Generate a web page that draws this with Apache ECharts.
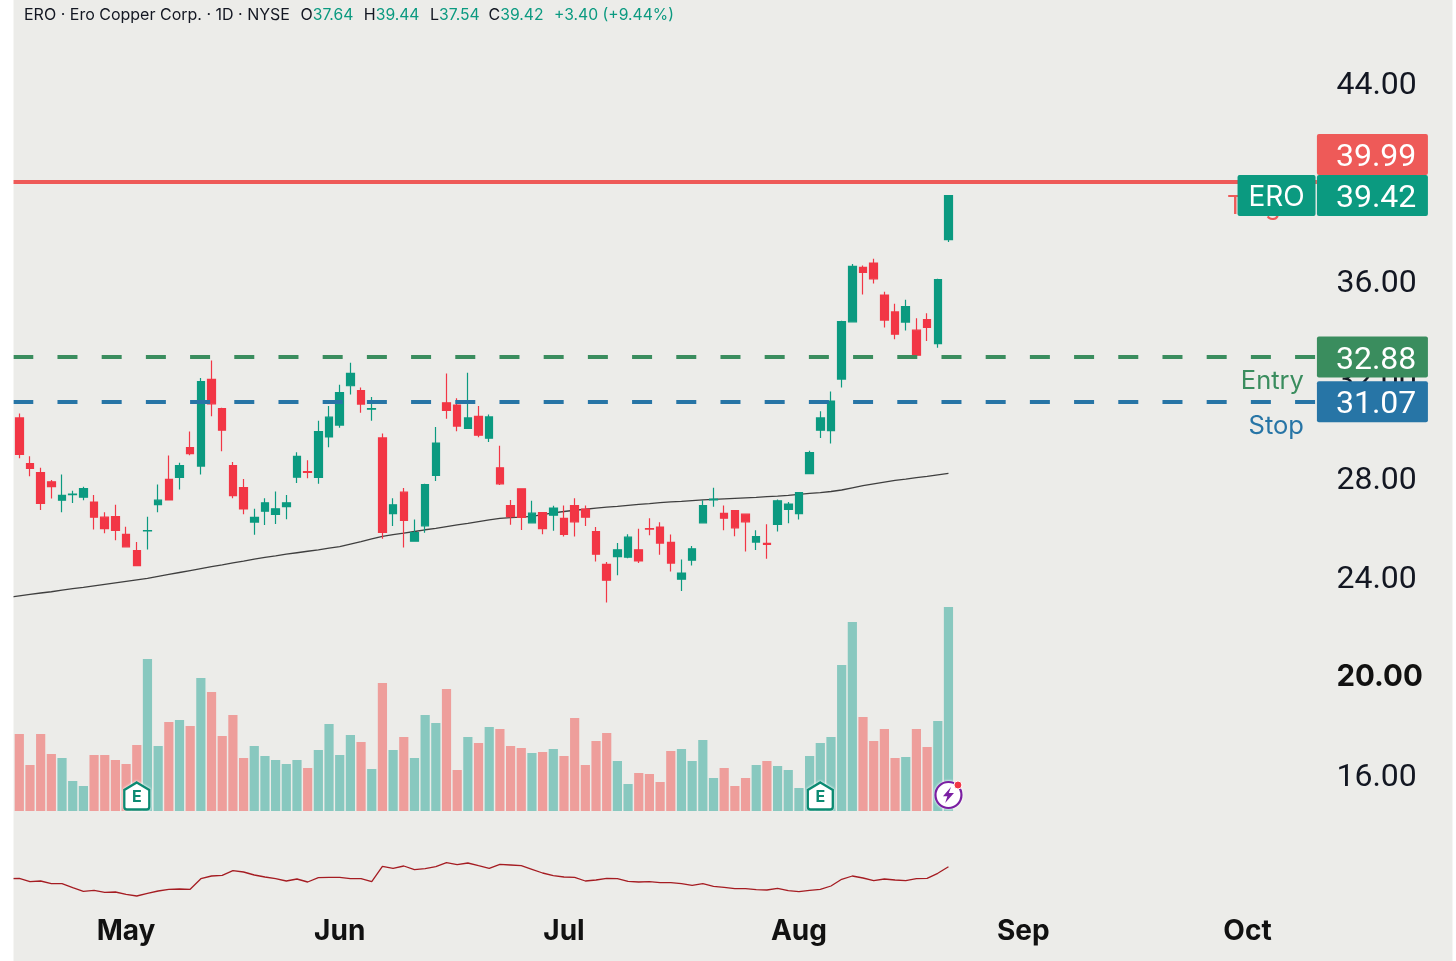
<!DOCTYPE html>
<html><head><meta charset="utf-8">
<style>html,body{margin:0;padding:0;background:#fff}#c{width:1456px;height:961px}</style>
<script src="https://cdn.jsdelivr.net/npm/echarts@6/dist/echarts.min.js"></script>
</head><body><div id="c"></div>
<script>
const opens=[30.42,28.57,28.20,27.83,27.09,27.31,27.21,27.01,26.40,26.42,25.70,25.05,25.84,26.91,27.93,28.01,29.22,28.47,31.98,30.80,28.49,27.60,26.20,26.64,26.51,26.83,28.02,28.24,28.01,29.65,30.13,31.72,31.52,30.77,29.61,26.54,27.41,25.43,26.05,28.09,31.03,30.94,29.99,30.48,29.60,28.40,26.87,27.55,26.17,26.59,26.48,26.35,26.87,26.73,25.82,24.49,24.80,24.78,25.08,25.94,26.00,25.38,23.89,24.66,26.17,27.10,26.55,26.67,26.52,25.39,25.34,26.11,26.71,26.54,28.16,29.92,29.90,31.99,34.31,36.51,36.69,35.39,34.71,34.30,33.97,34.40,33.43,37.64];
const closes=[28.94,28.37,26.96,27.64,27.28,27.33,27.56,26.40,25.94,25.86,25.20,24.44,25.86,27.09,27.10,28.49,28.97,31.89,30.99,29.92,27.27,26.73,26.39,26.98,26.74,26.98,28.86,28.21,29.86,30.45,31.44,32.22,30.98,30.80,25.78,26.90,26.27,25.78,27.72,29.40,30.72,30.09,30.42,29.72,30.46,27.75,26.42,26.39,26.56,25.94,26.77,25.70,26.21,26.40,24.90,23.85,25.08,25.59,24.63,25.92,25.35,24.54,24.14,25.12,26.87,27.13,26.36,25.97,26.21,25.61,25.30,27.06,26.93,27.39,29.01,30.42,31.10,34.32,36.55,36.31,36.05,34.38,33.81,34.93,32.96,34.08,36.02,39.42];
const lows=[28.79,28.06,26.69,27.16,26.60,26.97,27.08,25.90,25.75,25.47,25.17,24.44,25.09,26.60,27.10,27.52,28.91,28.13,30.49,29.07,27.17,26.52,25.69,26.08,26.12,26.32,27.78,27.98,27.75,29.23,30.02,31.37,30.63,30.30,25.53,26.04,25.17,25.42,25.77,27.86,30.38,29.88,29.98,29.64,29.44,27.70,26.09,25.88,26.15,25.71,25.85,25.62,25.62,26.04,24.61,22.95,24.05,24.74,24.54,25.67,24.88,24.20,23.41,24.44,26.17,26.82,25.87,25.63,25.01,25.07,24.72,25.82,26.15,26.31,28.14,29.61,29.38,31.65,34.31,35.42,35.86,34.08,33.60,33.96,32.95,33.53,33.26,37.54];
const highs=[30.60,28.87,28.40,27.90,28.13,27.47,27.63,27.30,26.60,26.90,26.01,25.39,26.42,27.72,28.90,28.60,29.87,32.03,32.74,30.83,28.63,27.95,26.74,27.17,27.44,27.30,29.03,28.70,30.30,30.90,31.76,32.65,31.65,31.27,29.79,27.17,27.58,26.31,27.75,30.05,32.22,31.21,32.25,30.90,30.56,29.29,27.10,27.55,27.06,26.60,26.86,26.87,27.17,26.87,26.00,24.59,25.35,25.71,25.93,26.36,26.19,25.70,24.69,25.23,27.09,27.59,26.87,26.67,26.52,25.87,26.11,27.12,27.01,27.42,29.09,30.69,31.49,34.35,36.65,36.59,36.86,35.53,35.04,35.20,34.45,34.66,36.05,39.44];
const volumes=[77,46,77,57,53,30,25,56,56,51,47,66,152,65,89,91,85,133,119,75,96,53,65,55,51,47,51,43,61,87,56,76,69,42,128,61,74,53,96,88,122,41,74,68,84,82,65,63,58,59,62,55,93,46,70,78,50,27,38,37,29,60,62,50,71,33,43,25,33,46,50,45,41,23,55,68,74,146,189,94,70,82,53,54,82,64,90,204];
const movingAverage=[23.15,23.21,23.27,23.33,23.38,23.45,23.51,23.56,23.62,23.68,23.74,23.80,23.86,23.92,24.00,24.08,24.16,24.24,24.32,24.40,24.47,24.55,24.62,24.70,24.77,24.83,24.90,24.96,25.02,25.08,25.15,25.21,25.31,25.41,25.52,25.62,25.69,25.75,25.82,25.89,25.95,26.02,26.09,26.15,26.22,26.29,26.35,26.38,26.40,26.43,26.50,26.57,26.63,26.68,26.72,26.77,26.81,26.84,26.88,26.92,26.95,26.99,27.02,27.04,27.07,27.10,27.12,27.14,27.16,27.18,27.20,27.23,27.25,27.28,27.32,27.36,27.39,27.44,27.50,27.59,27.68,27.75,27.82,27.89,27.94,28.00,28.05,28.11,28.17];
const indicator=[21.3,21.7,18.3,19,16.3,16.3,12.3,8.7,9.7,7.7,8,5.7,4,6.7,9,10.7,11,10.7,21.3,24,24.7,29.3,28,25,23,21.3,19,21,18,22.3,22.7,22.7,21.3,21.3,18.3,33.7,31.7,34,30.3,31.3,33.3,37.3,35.3,37,34.3,31.7,35.7,35,34.3,30.7,27,24.3,23,22.7,19,20,21.7,21.3,18.7,18,18.3,17.3,17.3,16.3,14.7,16.3,13.7,12.7,11.3,11.3,10.3,10,11.7,9.3,8.3,9.7,10.7,14,20.7,24,22,19.3,21,20,19.3,21.3,21.7,26.7,33.3];
const monthLabels=['May','Jun','Jul','Aug','Sep','Oct'];
const monthSlots=[11,31,52,74,95,116];
const slotCount=123;
const earningsSlots=[12,76];
const eventSlots=[88];
const priceLevels=[
 {name:'Target',value:39.99,color:'#ee5a58',dashed:false,box:-27},
 {name:'Entry',value:32.88,color:'#3a8d5e',dashed:true,box:0},
 {name:'Stop',value:31.07,color:'#2775a6',dashed:true,box:0}
];
const levelTexts=[['Target',39.06,'#ee5a58'],['Entry',31.98,'#3a8d5e'],['Stop',30.15,'#2775a6']];
const lastPrice=39.42, ticker='ERO';
const UP='#0b9a80', DOWN='#f23645', UPV='#88c8bf', DOWNV='#ee9e9b', BG='#ecece9';
const FONT='Inter, "Liberation Sans", sans-serif';
const NUMFONT='Roboto, "Liberation Sans", sans-serif';

const categories=Array.from({length:slotCount},(_,k)=>{const m=monthSlots.indexOf(k);return m>=0?monthLabels[m]:''});
const candle=opens.map((o,k)=>[o,closes[k],lows[k],highs[k]]);
const boxLabel=(text,color,dy)=>({show:true,position:'end',distance:0,offset:[0,dy],formatter:'{t|'+text+'}',opacity:1,
  backgroundColor:color,borderRadius:2,width:92,height:41,padding:[0,0,0,19],align:'left',
  rich:{t:{color:'#fff',fontFamily:NUMFONT,fontSize:32,padding:[8,0,0,0]}}});
const gridX={left:3.28,width:1313.64};
const xa=(i,show)=>({type:'category',gridIndex:i,data:categories,boundaryGap:true,axisLine:{show:false},axisTick:{show:false},splitLine:{show:false},
  axisLabel:show?{show:true,interval:0,margin:18,color:'#111',fontFamily:FONT,fontSize:28,fontWeight:700}:{show:false}});

const option={
 animation:false,
 backgroundColor:BG,
 title:{left:24,top:7,padding:0,text:
  '{k|ERO · Ero Copper Corp. · 1D · NYSE}{g| }{k|O}{v|37.64}{g| }{k|H}{v|39.44}{g| }{k|L}{v|37.54}{h| }{k|C}{v|39.42}{g| }{v|+3.40 (+9.44%)}',
  textStyle:{fontWeight:'normal',rich:{
    k:{fontFamily:FONT,fontSize:16,fontWeight:'normal',color:'#131722'},
    v:{fontFamily:FONT,fontSize:15.7,fontWeight:'normal',color:UP},
    g:{width:10.5,fontSize:16,fontFamily:FONT},
    h:{width:9,fontSize:16,fontFamily:FONT}}}},
 grid:[
  {left:gridX.left,width:gridX.width,top:82.45,height:691.6},
  {left:gridX.left,width:gridX.width,top:561,height:250},
  {left:gridX.left,width:gridX.width,top:810,height:90}
 ],
 xAxis:[xa(0,false),xa(1,false),xa(2,true)],
 yAxis:[
  {type:'value',gridIndex:0,position:'right',min:16,max:44,interval:4,axisLine:{show:false},axisTick:{show:false},splitLine:{show:false},
   axisLabel:{margin:19.5,formatter:v=>v===20?'{b|20.00}':'{n|'+v.toFixed(2)+'}',
    rich:{n:{fontFamily:NUMFONT,fontSize:32,color:'#131722',padding:[7,0,0,0]},b:{fontFamily:FONT,fontSize:29.5,fontWeight:700,color:'#111',padding:[3,0,0,0]}}}},
  {type:'value',gridIndex:1,min:0,max:250,show:false},
  {type:'value',gridIndex:2,min:0,max:90,show:false}
 ],
 series:[
  {type:'line',name:'levels',xAxisIndex:0,yAxisIndex:0,data:[],z:1,
   markLine:{silent:true,symbol:'none',animation:false,precision:2,
    data:priceLevels.map(l=>({yAxis:l.value,
      lineStyle:{color:l.color,width:4,type:l.dashed?[20,24.2]:'solid',dashOffset:34.2,opacity:1},
      label:boxLabel(l.value.toFixed(2),l.color,l.box)}))}},
  {type:'line',name:'MA',xAxisIndex:0,yAxisIndex:0,data:movingAverage.map((v,k)=>[k,v]),showSymbol:false,z:1.5,
   lineStyle:{color:'#3f3f3f',width:1.3},itemStyle:{color:'#3f3f3f'}},
  {type:'candlestick',name:'ERO',xAxisIndex:0,yAxisIndex:0,z:2,barWidth:8,
   data:[['-','-','-','-']].concat(candle),
   itemStyle:{color:UP,color0:DOWN,borderColor:UP,borderColor0:DOWN,borderWidth:1.2}},
  {type:'bar',name:'Volume',xAxisIndex:1,yAxisIndex:1,barWidth:9.2,z:2,
   data:['-'].concat(volumes.map((v,k)=>({value:v,itemStyle:{color:closes[k]>=opens[k]?UPV:DOWNV}})))},
  {type:'line',name:'Indicator',xAxisIndex:2,yAxisIndex:2,data:indicator.map((v,k)=>[k,v]),showSymbol:false,
   lineStyle:{color:'#a51c22',width:1.3},itemStyle:{color:'#a51c22'}},
  {type:'scatter',name:'levelText',xAxisIndex:0,yAxisIndex:0,symbolSize:0,z:3,itemStyle:{opacity:1},
   data:levelTexts.map(t=>({value:[121,t[1]],label:{show:true,position:'inside',formatter:t[0],align:'right',verticalAlign:'middle',offset:[3,2],color:t[2],fontFamily:FONT,fontSize:25.5}}))},
  {type:'line',name:'lastPriceBox',xAxisIndex:0,yAxisIndex:0,data:[],z:6,
   markLine:{silent:true,symbol:'none',animation:false,precision:2,data:[{yAxis:lastPrice,lineStyle:{color:'transparent',width:0,opacity:1},label:boxLabel(lastPrice.toFixed(2),UP,0)}]}},
  {type:'scatter',name:'lastPriceTag',xAxisIndex:0,yAxisIndex:0,symbolSize:0,z:6,itemStyle:{opacity:1},
   data:[{value:[119,lastPrice],label:{show:true,position:'inside',formatter:'{t|'+ticker+'}',align:'center',verticalAlign:'middle',offset:[-3,0],
     backgroundColor:UP,borderRadius:2,width:78,height:41,
     rich:{t:{color:'#fff',fontFamily:FONT,fontSize:28,padding:[9,0,0,0]}}}}]},
  {type:'scatter',name:'earnings',xAxisIndex:1,yAxisIndex:1,z:7,
   symbol:'path://M14 0 L28 8 L28 26 Q28 29 25 29 L3 29 Q0 29 0 26 L0 8 Z',symbolSize:[25,27],
   itemStyle:{color:'#fff',borderColor:'#0b8a72',borderWidth:2.4,opacity:1,shadowColor:'#fff',shadowBlur:3},
   label:{show:true,position:'inside',formatter:'E',offset:[0,1],color:'#0b8a72',fontFamily:FONT,fontWeight:700,fontSize:16},
   data:earningsSlots.map(k=>[k,15])},
  {type:'scatter',name:'eventRing',xAxisIndex:1,yAxisIndex:1,z:7,symbol:'circle',symbolSize:26,
   itemStyle:{color:'#fff',borderColor:'#7b1fa2',borderWidth:2.2,opacity:1,shadowColor:'#fff',shadowBlur:3},
   data:eventSlots.map(k=>[k,16])},
  {type:'scatter',name:'eventBolt',xAxisIndex:1,yAxisIndex:1,z:8,symbol:'path://M14 0 L3 14 L9 14 L6 24 L18 9 L11 9 Z',symbolSize:[11,16],
   itemStyle:{color:'#7b1fa2',opacity:1},data:eventSlots.map(k=>[k,16])},
  {type:'scatter',name:'eventDot',xAxisIndex:1,yAxisIndex:1,z:9,symbol:'circle',symbolSize:8,symbolOffset:[9.5,-10],
   itemStyle:{color:'#f23645',borderColor:'#fff',borderWidth:1,opacity:1},data:eventSlots.map(k=>[k,16])}
 ],
 graphic:[
  {type:'rect',left:0,top:0,z:100,shape:{width:13.5,height:961},style:{fill:'#fff'},silent:true},
  {type:'rect',left:1452.5,top:0,z:100,shape:{width:3.5,height:961},style:{fill:'#fff'},silent:true}
 ]
};
echarts.init(document.getElementById('c')).setOption(option);
</script></body></html>
